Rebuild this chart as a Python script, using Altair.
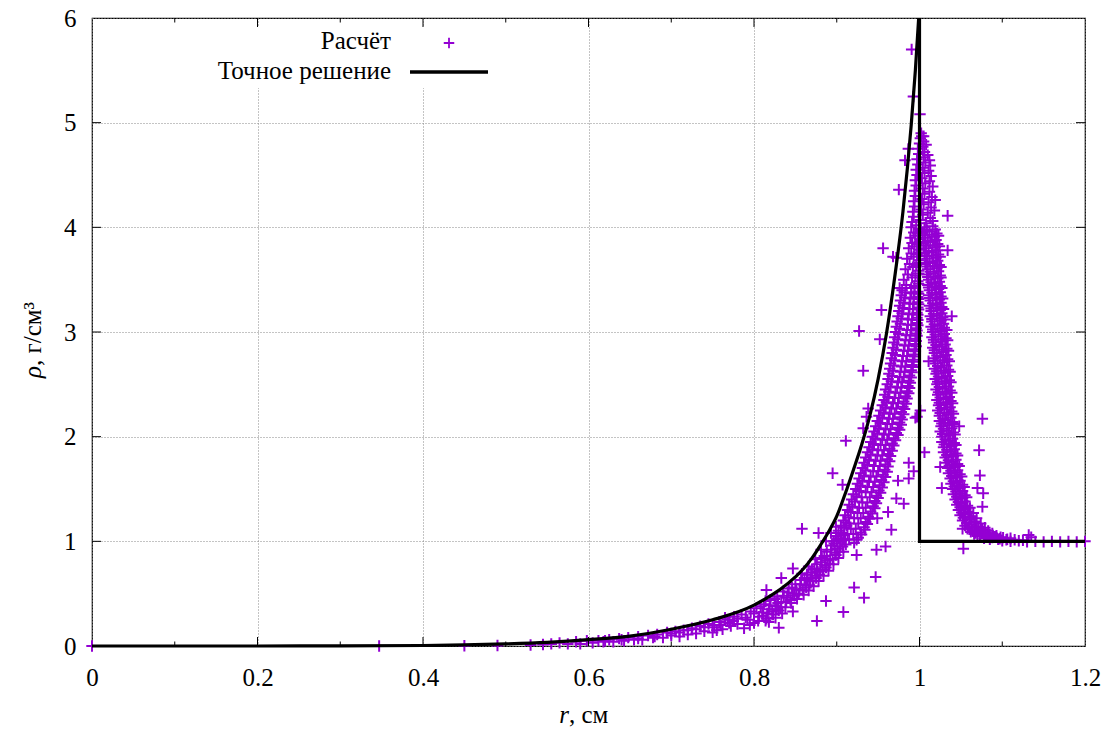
import altair as alt
import pandas as pd

# ---------------- data ----------------
x_ticks = [0, 0.2, 0.4, 0.6, 0.8, 1.0, 1.2]
x_minor = [0.1, 0.3, 0.5, 0.7, 0.9, 1.1]
y_ticks = [0, 1, 2, 3, 4, 5, 6]

# exact solution (smooth part), r in cm, rho in g/cm^3
exact_r = [0, 0.1, 0.2, 0.3, 0.4, 0.45, 0.5, 0.55, 0.6, 0.65, 0.7, 0.75, 0.8,
           0.85, 0.86, 0.87, 0.88, 0.89, 0.9, 0.91, 0.92, 0.93, 0.94, 0.95, 0.96,
           0.97, 0.98, 0.99, 0.995, 0.999]
exact_rho = [0, 0, 0, 0.001, 0.005, 0.01, 0.02, 0.035, 0.06, 0.095, 0.16, 0.25, 0.39,
             0.66, 0.74, 0.84, 0.96, 1.09, 1.24, 1.45, 1.68, 1.92, 2.2, 2.55, 2.98,
             3.52, 4.15, 4.98, 5.5, 6.0]
# exact solution: shock and undisturbed gas
shock_r = [1.0, 1.0, 1.2]
shock_rho = [6.0, 1.0, 1.0]

# computed points ("Расчёт"), (r, rho)
near_zero = [(0.0, 0.0), (0.347, 0.0), (0.45, 0.003), (0.49, 0.005), (0.53, 0.01), (0.545, 0.015)]

band_low = [
    (0.555, 0.02), (0.565, 0.03), (0.575, 0.02), (0.585, 0.04), (0.59, 0.02),
    (0.598, 0.05), (0.605, 0.03), (0.612, 0.05), (0.618, 0.04), (0.625, 0.06),
    (0.63, 0.04), (0.637, 0.07), (0.643, 0.05), (0.648, 0.08), (0.655, 0.06),
    (0.66, 0.09), (0.665, 0.06), (0.672, 0.10), (0.678, 0.08), (0.683, 0.11),
    (0.69, 0.08), (0.695, 0.13), (0.70, 0.10), (0.705, 0.14), (0.71, 0.09),
    (0.715, 0.15), (0.72, 0.11), (0.725, 0.17), (0.73, 0.12), (0.735, 0.19),
    (0.74, 0.14), (0.745, 0.21), (0.75, 0.13), (0.752, 0.18), (0.758, 0.23),
    (0.762, 0.16), (0.768, 0.25), (0.772, 0.19), (0.776, 0.28), (0.78, 0.21),
    (0.785, 0.30), (0.788, 0.17), (0.792, 0.25), (0.796, 0.33), (0.80, 0.22),
    (0.803, 0.36), (0.806, 0.28),
    (0.81, 0.32), (0.812, 0.40), (0.815, 0.26), (0.818, 0.35), (0.82, 0.44),
    (0.823, 0.30), (0.826, 0.38), (0.828, 0.47), (0.83, 0.34), (0.833, 0.42),
    (0.835, 0.52), (0.838, 0.37), (0.84, 0.46), (0.842, 0.55), (0.845, 0.41),
    (0.847, 0.50), (0.85, 0.59), (0.852, 0.45), (0.855, 0.54), (0.857, 0.63),
    (0.86, 0.49), (0.862, 0.58), (0.864, 0.68), (0.866, 0.53), (0.868, 0.62),
    (0.87, 0.73), (0.872, 0.57), (0.874, 0.67), (0.876, 0.78), (0.878, 0.62),
    (0.88, 0.72), (0.882, 0.84), (0.884, 0.67), (0.886, 0.77), (0.888, 0.90),
    (0.89, 0.72), (0.892, 0.83), (0.894, 0.96), (0.896, 0.78), (0.898, 0.89),
    (0.90, 1.02), (0.902, 0.84), (0.904, 0.95), (0.906, 1.08), (0.908, 0.90),
    (0.91, 1.01), (0.912, 1.15),
    (0.858, 0.69), (0.866, 0.76), (0.874, 0.83), (0.881, 0.92), (0.887, 1.00),
    (0.893, 1.08), (0.899, 1.14), (0.826, 0.27), (0.834, 0.31), (0.818, 0.23),
]

band_low_fill = [
    (0.79, 0.27), (0.795, 0.20), (0.80, 0.31), (0.805, 0.24), (0.808, 0.38),
    (0.811, 0.29), (0.814, 0.43), (0.816, 0.31), (0.819, 0.39), (0.822, 0.33),
    (0.825, 0.45), (0.827, 0.35), (0.829, 0.41), (0.832, 0.37), (0.836, 0.48),
    (0.839, 0.42), (0.841, 0.51), (0.844, 0.44), (0.846, 0.56), (0.849, 0.48),
    (0.851, 0.54), (0.854, 0.50), (0.856, 0.59), (0.859, 0.53), (0.861, 0.65),
    (0.863, 0.56), (0.865, 0.63), (0.867, 0.58), (0.869, 0.70), (0.871, 0.62),
    (0.873, 0.74), (0.875, 0.65), (0.877, 0.71), (0.879, 0.68), (0.881, 0.80),
    (0.883, 0.73), (0.885, 0.86), (0.887, 0.75), (0.889, 0.82), (0.891, 0.78),
    (0.893, 0.92), (0.895, 0.83), (0.897, 0.98), (0.899, 0.87), (0.901, 0.93),
    (0.903, 0.90), (0.905, 1.00), (0.907, 0.95), (0.909, 1.06), (0.911, 0.97),
    (0.70, 0.12), (0.71, 0.13), (0.72, 0.15), (0.73, 0.16), (0.74, 0.18),
    (0.75, 0.20), (0.76, 0.20), (0.77, 0.22), (0.78, 0.26), (0.765, 0.27),
    (0.775, 0.24), (0.755, 0.15), (0.68, 0.09), (0.66, 0.07), (0.64, 0.06),
    (0.62, 0.05),
]

band_left = [
    (0.896, 1.00), (0.908, 1.02), (0.921, 0.985),
    (0.899, 1.05), (0.913, 1.07), (0.926, 1.035),
    (0.902, 1.10), (0.917, 1.12), (0.929, 1.085),
    (0.905, 1.15), (0.915, 1.17), (0.933, 1.135),
    (0.908, 1.20), (0.921, 1.22), (0.935, 1.185),
    (0.910, 1.25), (0.925, 1.27), (0.938, 1.235),
    (0.913, 1.30), (0.927, 1.32), (0.941, 1.285),
    (0.915, 1.35), (0.931, 1.37), (0.944, 1.335),
    (0.918, 1.40), (0.930, 1.42), (0.946, 1.385),
    (0.920, 1.45), (0.935, 1.47), (0.948, 1.435),
    (0.923, 1.50), (0.937, 1.52), (0.951, 1.485),
    (0.925, 1.55), (0.939, 1.57), (0.952, 1.535),
    (0.927, 1.60), (0.941, 1.62), (0.954, 1.585),
    (0.929, 1.65), (0.944, 1.67), (0.956, 1.635),
    (0.931, 1.70), (0.945, 1.72), (0.958, 1.685),
    (0.933, 1.75), (0.947, 1.77), (0.959, 1.735),
    (0.935, 1.80), (0.949, 1.82), (0.961, 1.785),
    (0.937, 1.85), (0.950, 1.87), (0.962, 1.835),
    (0.939, 1.90), (0.953, 1.92), (0.964, 1.885),
    (0.941, 1.95), (0.955, 1.97), (0.967, 1.935),
    (0.943, 2.00), (0.957, 2.02), (0.969, 1.985),
    (0.945, 2.05), (0.959, 2.07), (0.972, 2.035),
    (0.947, 2.10), (0.961, 2.12), (0.974, 2.085),
    (0.949, 2.15), (0.963, 2.17), (0.976, 2.135),
    (0.951, 2.20), (0.964, 2.22), (0.977, 2.185),
    (0.953, 2.25), (0.966, 2.27), (0.978, 2.235),
    (0.955, 2.30), (0.968, 2.32), (0.980, 2.285),
    (0.957, 2.35), (0.970, 2.37), (0.981, 2.335),
    (0.958, 2.40), (0.971, 2.42), (0.983, 2.385),
    (0.959, 2.45), (0.973, 2.47), (0.985, 2.435),
    (0.961, 2.50), (0.974, 2.52), (0.986, 2.485),
    (0.962, 2.55), (0.976, 2.57), (0.987, 2.535),
    (0.963, 2.60), (0.977, 2.62), (0.988, 2.585),
    (0.964, 2.65), (0.978, 2.67), (0.990, 2.635),
    (0.965, 2.70), (0.979, 2.72), (0.991, 2.685),
    (0.966, 2.75), (0.980, 2.77), (0.992, 2.735),
    (0.967, 2.80), (0.981, 2.82), (0.993, 2.785),
    (0.968, 2.85), (0.982, 2.87), (0.994, 2.835),
    (0.969, 2.90), (0.983, 2.92), (0.995, 2.885),
    (0.970, 2.95), (0.984, 2.97), (0.995, 2.935),
    (0.971, 3.00), (0.985, 3.02), (0.996, 2.985),
    (0.972, 3.05), (0.986, 3.07), (0.996, 3.035),
    (0.973, 3.10), (0.986, 3.12), (0.997, 3.085),
    (0.974, 3.15), (0.987, 3.17), (0.997, 3.135),
    (0.975, 3.20), (0.988, 3.22), (0.997, 3.185),
    (0.976, 3.25), (0.988, 3.27), (0.998, 3.235),
    (0.977, 3.30), (0.989, 3.32), (0.998, 3.285),
    (0.978, 3.35), (0.990, 3.37), (0.998, 3.335),
    (0.979, 3.40), (0.990, 3.42), (0.998, 3.385),
    (0.981, 3.50), (0.991, 3.52), (0.998, 3.485),
    (0.983, 3.60), (0.992, 3.62), (0.999, 3.585),
    (0.985, 3.70), (0.993, 3.72), (0.999, 3.685),
    (0.987, 3.80), (0.994, 3.82), (0.999, 3.785),
    (0.989, 3.90), (0.995, 3.92), (1.000, 3.885),
    (0.990, 4.00), (0.996, 4.02), (1.000, 3.985),
]

band_left_fill = [
    (0.902, 1.03), (0.915, 1.02), (0.924, 1.015),
    (0.905, 1.08), (0.920, 1.07), (0.930, 1.065),
    (0.909, 1.13), (0.923, 1.12), (0.934, 1.11),
    (0.911, 1.18), (0.926, 1.17), (0.937, 1.165),
    (0.914, 1.23), (0.929, 1.22), (0.940, 1.215),
    (0.917, 1.28), (0.932, 1.27), (0.943, 1.265),
    (0.919, 1.33), (0.935, 1.32), (0.946, 1.315),
    (0.922, 1.38), (0.937, 1.37), (0.948, 1.365),
    (0.924, 1.43), (0.940, 1.42), (0.950, 1.415),
    (0.927, 1.48), (0.942, 1.47), (0.953, 1.465),
    (0.929, 1.53), (0.944, 1.52), (0.955, 1.515),
    (0.931, 1.58), (0.946, 1.57), (0.957, 1.565),
    (0.933, 1.63), (0.948, 1.62), (0.959, 1.615),
    (0.935, 1.68), (0.950, 1.67), (0.961, 1.665),
    (0.937, 1.73), (0.952, 1.72), (0.962, 1.715),
    (0.939, 1.78), (0.953, 1.77), (0.964, 1.765),
    (0.941, 1.83), (0.955, 1.82), (0.965, 1.815),
    (0.943, 1.88), (0.957, 1.87), (0.967, 1.865),
    (0.945, 1.93), (0.959, 1.92), (0.969, 1.915),
    (0.947, 1.98), (0.961, 1.97), (0.971, 1.965),
    (0.949, 2.03), (0.963, 2.02), (0.974, 2.015),
    (0.951, 2.08), (0.965, 2.07), (0.976, 2.065),
    (0.953, 2.13), (0.967, 2.12), (0.978, 2.115),
    (0.955, 2.18), (0.968, 2.17), (0.979, 2.165),
    (0.957, 2.23), (0.970, 2.22), (0.981, 2.215),
    (0.959, 2.28), (0.972, 2.27), (0.982, 2.265),
    (0.960, 2.33), (0.974, 2.32), (0.984, 2.315),
    (0.962, 2.38), (0.975, 2.37), (0.985, 2.365),
    (0.963, 2.43), (0.977, 2.42), (0.987, 2.415),
    (0.965, 2.48), (0.978, 2.47), (0.988, 2.465),
    (0.966, 2.53), (0.979, 2.52), (0.989, 2.515),
    (0.967, 2.58), (0.981, 2.57), (0.990, 2.565),
    (0.968, 2.63), (0.982, 2.62), (0.991, 2.615),
    (0.969, 2.68), (0.983, 2.67), (0.992, 2.665),
    (0.970, 2.73), (0.984, 2.72), (0.993, 2.715),
    (0.971, 2.78), (0.985, 2.77), (0.994, 2.765),
    (0.972, 2.83), (0.986, 2.82), (0.995, 2.815),
    (0.973, 2.88), (0.987, 2.87), (0.996, 2.865),
    (0.974, 2.93), (0.988, 2.92), (0.996, 2.915),
    (0.975, 2.98), (0.989, 2.97), (0.997, 2.965),
    (0.976, 3.03), (0.990, 3.02), (0.997, 3.015),
    (0.977, 3.08), (0.990, 3.07), (0.998, 3.065),
    (0.978, 3.13), (0.991, 3.12), (0.998, 3.115),
    (0.979, 3.18), (0.992, 3.17), (0.998, 3.165),
    (0.980, 3.23), (0.992, 3.22), (0.999, 3.215),
    (0.981, 3.28), (0.993, 3.27), (0.999, 3.265),
    (0.982, 3.33), (0.993, 3.32), (0.999, 3.315),
    (0.983, 3.38), (0.994, 3.37), (0.999, 3.365),
    (0.984, 3.45), (0.994, 3.44), (0.999, 3.46),
    (0.986, 3.55), (0.995, 3.54), (0.999, 3.56),
    (0.988, 3.65), (0.996, 3.64), (1.000, 3.66),
    (0.990, 3.75), (0.997, 3.74), (1.000, 3.76),
    (0.991, 3.85), (0.997, 3.84), (1.000, 3.86),
    (0.993, 3.95), (0.998, 3.94), (1.001, 3.96),
]

peak = [
    (0.991, 4.05), (1.001, 4.07), (1.008, 4.04), (1.016, 4.06),
    (0.993, 4.10), (1.004, 4.12), (1.013, 4.09),
    (0.992, 4.15), (1.002, 4.17), (1.010, 4.14), (1.018, 4.16),
    (0.994, 4.20), (1.005, 4.22), (1.014, 4.19),
    (0.993, 4.25), (1.003, 4.27), (1.011, 4.24), (1.019, 4.26),
    (0.995, 4.30), (1.006, 4.32), (1.015, 4.29),
    (0.994, 4.35), (1.004, 4.37), (1.012, 4.34),
    (0.996, 4.40), (1.007, 4.42), (1.016, 4.39),
    (0.995, 4.45), (1.003, 4.47), (1.012, 4.44),
    (0.997, 4.50), (1.006, 4.52), (1.014, 4.49),
    (0.996, 4.55), (1.004, 4.57), (1.011, 4.54),
    (0.998, 4.60), (1.007, 4.62), (1.013, 4.59),
    (0.997, 4.65), (1.005, 4.67), (1.012, 4.64),
    (0.999, 4.70), (1.006, 4.72), (1.010, 4.69),
    (0.998, 4.75), (1.004, 4.77),
    (1.000, 4.80), (1.005, 4.82), (1.008, 4.79),
    (1.001, 4.85), (1.005, 4.87),
    (1.002, 4.90),
]

band_right = [
    (1.006, 4.00), (1.016, 4.01),
    (1.004, 3.95), (1.012, 3.96), (1.021, 3.94),
    (1.007, 3.90), (1.018, 3.91),
    (1.005, 3.85), (1.013, 3.86), (1.022, 3.84),
    (1.008, 3.80), (1.019, 3.81),
    (1.006, 3.75), (1.015, 3.76), (1.023, 3.74),
    (1.009, 3.70), (1.020, 3.71),
    (1.007, 3.65), (1.016, 3.66), (1.024, 3.64),
    (1.010, 3.60), (1.021, 3.61),
    (1.009, 3.55), (1.017, 3.56), (1.025, 3.54),
    (1.011, 3.50), (1.022, 3.51),
    (1.010, 3.45), (1.018, 3.46), (1.025, 3.44),
    (1.012, 3.40), (1.023, 3.41),
    (1.011, 3.35), (1.019, 3.36), (1.026, 3.34),
    (1.013, 3.30), (1.024, 3.31),
    (1.012, 3.25), (1.020, 3.26), (1.027, 3.24),
    (1.014, 3.20), (1.025, 3.21),
    (1.013, 3.15), (1.021, 3.16), (1.028, 3.14),
    (1.015, 3.10), (1.026, 3.11),
    (1.014, 3.05), (1.022, 3.06), (1.030, 3.04),
    (1.016, 3.00), (1.027, 3.01),
    (1.015, 2.95), (1.023, 2.96), (1.032, 2.94),
    (1.017, 2.90), (1.028, 2.91),
    (1.016, 2.85), (1.024, 2.86), (1.033, 2.84),
    (1.018, 2.80), (1.029, 2.81),
    (1.017, 2.75), (1.025, 2.76), (1.034, 2.74),
    (1.019, 2.70), (1.030, 2.71),
    (1.018, 2.65), (1.026, 2.66), (1.035, 2.64),
    (1.020, 2.60), (1.031, 2.61),
    (1.019, 2.55), (1.027, 2.56), (1.036, 2.54),
    (1.021, 2.50), (1.032, 2.51),
    (1.020, 2.45), (1.028, 2.46), (1.037, 2.44),
    (1.022, 2.40), (1.033, 2.41),
    (1.021, 2.35), (1.029, 2.36), (1.038, 2.34),
    (1.023, 2.30), (1.034, 2.31),
    (1.022, 2.25), (1.030, 2.26), (1.039, 2.24),
    (1.024, 2.20), (1.035, 2.21),
    (1.024, 2.15), (1.031, 2.16), (1.040, 2.14),
    (1.026, 2.10), (1.036, 2.11),
    (1.025, 2.05), (1.033, 2.06), (1.041, 2.04),
    (1.027, 2.00), (1.037, 2.01),
    (1.027, 1.95), (1.035, 1.96), (1.042, 1.94),
    (1.029, 1.90), (1.039, 1.91),
    (1.029, 1.85), (1.037, 1.86), (1.044, 1.84),
    (1.031, 1.80), (1.041, 1.81),
    (1.032, 1.75), (1.039, 1.76), (1.046, 1.74),
    (1.034, 1.70), (1.043, 1.71),
    (1.035, 1.65), (1.042, 1.66), (1.049, 1.64),
    (1.037, 1.60), (1.046, 1.61),
    (1.038, 1.55), (1.045, 1.56), (1.052, 1.54),
    (1.040, 1.50), (1.049, 1.51),
    (1.041, 1.45), (1.048, 1.46), (1.055, 1.44),
    (1.043, 1.40), (1.052, 1.41),
    (1.045, 1.35), (1.051, 1.36), (1.058, 1.34),
    (1.047, 1.30), (1.056, 1.31),
    (1.049, 1.25), (1.055, 1.26), (1.063, 1.24),
    (1.052, 1.20), (1.060, 1.21), (1.067, 1.19),
    (1.055, 1.15), (1.063, 1.16), (1.071, 1.14),
    (1.058, 1.12), (1.067, 1.13), (1.076, 1.11),
    (1.062, 1.09), (1.071, 1.10), (1.080, 1.08),
    (1.066, 1.07), (1.075, 1.075), (1.085, 1.065),
    (1.070, 1.05), (1.080, 1.055), (1.090, 1.045), (1.098, 1.04),
    (1.078, 1.03), (1.088, 1.035), (1.097, 1.025), (1.106, 1.02),
    (1.085, 1.02), (1.095, 1.02), (1.105, 1.015), (1.115, 1.015), (1.125, 1.01),
]

band_right_fill = [
    (1.009, 3.975), (1.019, 3.98),
    (1.006, 3.925), (1.015, 3.93), (1.023, 3.92),
    (1.010, 3.875), (1.020, 3.88),
    (1.007, 3.825), (1.016, 3.83), (1.024, 3.82),
    (1.011, 3.775), (1.021, 3.78),
    (1.008, 3.725), (1.017, 3.73), (1.025, 3.72),
    (1.012, 3.675), (1.022, 3.68),
    (1.009, 3.625), (1.018, 3.63), (1.026, 3.62),
    (1.013, 3.575), (1.023, 3.58),
    (1.010, 3.525), (1.019, 3.53), (1.026, 3.52),
    (1.014, 3.475), (1.024, 3.48),
    (1.011, 3.425), (1.020, 3.43), (1.027, 3.42),
    (1.015, 3.375), (1.025, 3.38),
    (1.012, 3.325), (1.021, 3.33), (1.028, 3.32),
    (1.016, 3.275), (1.026, 3.28),
    (1.014, 3.225), (1.022, 3.23), (1.029, 3.22),
    (1.017, 3.175), (1.027, 3.18),
    (1.015, 3.125), (1.024, 3.13), (1.031, 3.12),
    (1.018, 3.075), (1.029, 3.08),
    (1.016, 3.025), (1.025, 3.03), (1.033, 3.02),
    (1.019, 2.975), (1.030, 2.98),
    (1.017, 2.925), (1.026, 2.93), (1.034, 2.92),
    (1.020, 2.875), (1.031, 2.88),
    (1.018, 2.825), (1.027, 2.83), (1.035, 2.82),
    (1.021, 2.775), (1.032, 2.78),
    (1.019, 2.725), (1.028, 2.73), (1.036, 2.72),
    (1.022, 2.675), (1.033, 2.68),
    (1.021, 2.625), (1.029, 2.63), (1.037, 2.62),
    (1.023, 2.575), (1.034, 2.58),
    (1.022, 2.525), (1.030, 2.53), (1.038, 2.52),
    (1.024, 2.475), (1.035, 2.48),
    (1.023, 2.425), (1.031, 2.43), (1.039, 2.42),
    (1.025, 2.375), (1.036, 2.38),
    (1.024, 2.325), (1.032, 2.33), (1.040, 2.32),
    (1.026, 2.275), (1.037, 2.28),
    (1.025, 2.225), (1.033, 2.23), (1.041, 2.22),
    (1.028, 2.175), (1.038, 2.18),
    (1.027, 2.125), (1.034, 2.13), (1.042, 2.12),
    (1.029, 2.075), (1.039, 2.08),
    (1.028, 2.025), (1.035, 2.03), (1.043, 2.02),
    (1.031, 1.975), (1.040, 1.98),
    (1.030, 1.925), (1.037, 1.93), (1.044, 1.92),
    (1.033, 1.875), (1.042, 1.88),
    (1.033, 1.825), (1.039, 1.83), (1.046, 1.82),
    (1.035, 1.775), (1.044, 1.78),
    (1.036, 1.725), (1.041, 1.73), (1.048, 1.72),
    (1.038, 1.675), (1.046, 1.68),
    (1.039, 1.625), (1.044, 1.63), (1.051, 1.62),
    (1.041, 1.575), (1.049, 1.58),
    (1.042, 1.525), (1.047, 1.53), (1.054, 1.52),
    (1.044, 1.475), (1.052, 1.48),
    (1.045, 1.425), (1.050, 1.43), (1.057, 1.42),
    (1.047, 1.375), (1.055, 1.38),
    (1.049, 1.325), (1.054, 1.33), (1.061, 1.32),
    (1.051, 1.275), (1.059, 1.28), (1.065, 1.27),
    (1.053, 1.225), (1.062, 1.23), (1.069, 1.22),
    (1.057, 1.175), (1.066, 1.18), (1.074, 1.17),
    (1.060, 1.135), (1.069, 1.14), (1.079, 1.13),
    (1.064, 1.105), (1.074, 1.11), (1.083, 1.10),
    (1.068, 1.08), (1.078, 1.085), (1.088, 1.075),
    (1.073, 1.06), (1.083, 1.065), (1.093, 1.055),
    (1.082, 1.04), (1.092, 1.045), (1.101, 1.035), (1.110, 1.03),
]

tail = [
    (1.10, 1.005), (1.11, 1.0), (1.12, 1.005), (1.13, 0.995), (1.135, 1.04),
    (1.14, 1.0), (1.15, 0.995), (1.16, 1.0), (1.17, 0.995), (1.18, 1.0),
    (1.19, 0.995), (1.20, 1.0),
]

outliers = [
    (0.911, 1.96), (0.895, 1.65), (0.907, 1.54), (0.858, 1.12), (0.878, 1.08),
    (0.932, 2.08), (0.936, 2.19), (0.847, 0.74), (0.833, 0.65), (0.815, 0.535),
    (0.987, 1.75), (0.993, 1.67), (0.987, 1.60), (0.974, 1.58), (0.972, 1.41),
    (0.981, 1.36), (0.962, 1.28), (0.949, 1.22), (0.966, 1.11), (0.959, 0.95),
    (0.948, 0.92), (0.947, 0.66), (0.921, 0.56), (0.933, 0.46), (0.908, 0.325),
    (0.887, 0.43), (0.876, 0.24), (0.830, 0.175), (0.924, 0.87), (1.006, 1.85),
    (1.027, 1.51), (1.025, 1.71), (0.997, 2.19), (0.814, 0.24), (0.847, 0.33),
    (0.927, 3.01), (0.932, 2.63), (0.954, 3.21), (0.952, 2.93), (0.938, 2.27),
    (1.039, 3.15), (1.011, 2.72), (1.076, 2.17), (1.072, 1.87), (1.073, 1.63),
    (1.070, 1.51), (1.077, 1.46), (1.076, 1.33), (1.048, 2.10), (1.053, 0.93),
    (1.052, 1.12), (1.001, 2.25), (0.995, 2.18), (1.132, 1.06),
    (0.9905, 5.70), (0.9926, 5.25), (1.0006, 5.08), (0.9825, 4.64), (0.975, 4.36),
    (0.956, 3.80), (1.034, 4.11), (1.034, 3.78), (0.972, 3.71), (0.976, 3.42),
    (1.0027, 4.87), (0.9865, 4.75), (0.968, 3.72),
]

legend_calc = "Расчёт"
legend_exact = "Точное решение"
x_title_var = "r"
x_title_rest = ", см"
y_title_var = "ρ"
y_title_rest = ", г/см³"

# ---------------- styling ----------------
FONT = "Liberation Serif, Times New Roman, DejaVu Serif, serif"
FS = 25
VIOLET = "#9400d3"
PLUS = "M-1,0H1M0,-1V1"
W, H = 993, 628

all_points = (near_zero + band_low + band_low_fill + band_left + band_left_fill + peak
              + band_right + band_right_fill + tail + outliers)
calc = pd.DataFrame(all_points, columns=["r", "rho"])
curve = pd.DataFrame({"r": exact_r, "rho": exact_rho})
shock = pd.DataFrame({"r": shock_r, "rho": shock_rho, "k": list(range(len(shock_r)))})
xt_major = pd.DataFrame({"r": x_ticks[1:-1]})
xt_minor = pd.DataFrame({"r": x_minor})
yt_major = pd.DataFrame({"rho": y_ticks[1:-1]})
one = pd.DataFrame({"a": [0]})

xs = alt.Scale(domain=[0, 1.2], nice=False, zero=False)
ys = alt.Scale(domain=[0, 6], nice=False, zero=False)

x_axis = alt.Axis(values=x_ticks, format="~g", title=None, grid=True, gridDash=[1, 2],
                  gridColor="#888888", gridWidth=1, ticks=False, domain=False,
                  labelFont=FONT, labelFontSize=FS, labelColor="black", labelPadding=39,
                  labelBaseline="alphabetic", labelFlush=False, labelOverlap=False)
y_axis = alt.Axis(values=y_ticks, format="d", title=None, grid=True, gridDash=[1, 2],
                  gridColor="#888888", gridWidth=1, ticks=False, domain=False,
                  labelFont=FONT, labelFontSize=FS, labelColor="black", labelPadding=16,
                  labelFlush=False, labelOverlap=False)

X = alt.X("r:Q", scale=xs, axis=x_axis)
Y = alt.Y("rho:Q", scale=ys, axis=y_axis)

points = alt.Chart(calc).mark_point(
    shape=PLUS, size=130, strokeWidth=2, color=VIOLET, filled=False, opacity=1
).encode(x=X, y=Y)

legend_bg = alt.Chart(one).mark_rect(color="white").encode(
    x=alt.value(110), x2=alt.value(405), y=alt.value(9), y2=alt.value(70))

curve_line = alt.Chart(curve).mark_line(
    color="black", strokeWidth=3.2, interpolate="monotone", strokeJoin="round"
).encode(x=X, y=Y)
shock_line = alt.Chart(shock).mark_line(
    color="black", strokeWidth=3.2, strokeJoin="miter"
).encode(x=X, y=Y, order="k:Q")

tick_style = dict(color="black", strokeWidth=1)
ticks = [
    alt.Chart(xt_major).mark_rule(**tick_style).encode(x=X, y=alt.value(H), y2=alt.value(H - 9)),
    alt.Chart(xt_major).mark_rule(**tick_style).encode(x=X, y=alt.value(0), y2=alt.value(9)),
    alt.Chart(xt_minor).mark_rule(**tick_style).encode(x=X, y=alt.value(H), y2=alt.value(H - 4.5)),
    alt.Chart(xt_minor).mark_rule(**tick_style).encode(x=X, y=alt.value(0), y2=alt.value(4.5)),
    alt.Chart(yt_major).mark_rule(**tick_style).encode(y=Y, x=alt.value(0), x2=alt.value(9)),
    alt.Chart(yt_major).mark_rule(**tick_style).encode(y=Y, x=alt.value(W), x2=alt.value(W - 9)),
]

txt = dict(font=FONT, fontSize=FS, color="black", baseline="alphabetic")
legend = [
    alt.Chart(one).mark_text(text=legend_calc, align="right", **txt).encode(
        x=alt.value(299), y=alt.value(31)),
    alt.Chart(one).mark_text(text=legend_exact, align="right", **txt).encode(
        x=alt.value(299), y=alt.value(61)),
    alt.Chart(one).mark_point(shape=PLUS, size=110, strokeWidth=1.8, color=VIOLET,
                              filled=False, opacity=1).encode(
        x=alt.value(357), y=alt.value(25)),
    alt.Chart(one).mark_rule(color="black", strokeWidth=3.4).encode(
        x=alt.value(318), x2=alt.value(396), y=alt.value(54)),
]

titles = [
    alt.Chart(one).mark_text(text=x_title_var, align="right", fontStyle="italic", **txt).encode(
        x=alt.value(477), y=alt.value(705)),
    alt.Chart(one).mark_text(text=x_title_rest, align="left", **txt).encode(
        x=alt.value(477), y=alt.value(705)),
    alt.Chart(one).mark_text(text=y_title_var, align="right", angle=270, fontStyle="italic",
                             **txt).encode(x=alt.value(-51), y=alt.value(348)),
    alt.Chart(one).mark_text(text=y_title_rest, align="left", angle=270, **txt).encode(
        x=alt.value(-51), y=alt.value(348)),
]

chart = alt.layer(
    points, legend_bg, curve_line, shock_line, *ticks, *legend, *titles
).properties(
    width=W, height=H,
    padding={"left": 92, "top": 18, "right": 24, "bottom": 88},
    autosize=alt.AutoSizeParams(type="none"),
    background="white",
).configure_view(stroke="black", strokeWidth=1.2)

chart.save("out.html", embed_options={"renderer": "svg", "actions": False})
